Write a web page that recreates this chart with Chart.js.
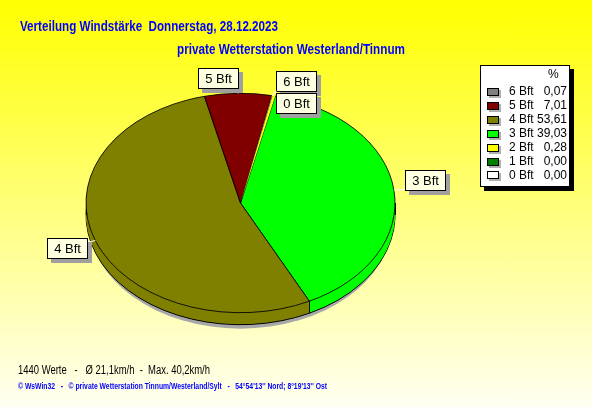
<!DOCTYPE html>
<html>
<head>
<meta charset="utf-8">
<script src="https://cdn.jsdelivr.net/npm/chart.js@4.4.0/dist/chart.umd.min.js"></script>
<style>
html, body { margin: 0; padding: 0; }
body { width: 592px; height: 407px; overflow: hidden; background: linear-gradient(to bottom, #ffff00 0%, #fffff2 100%); }
canvas { display: block; }
</style>
</head>
<body>
<canvas id="windChart" width="592" height="407"></canvas>
<script>
// Werte
const categories  = ['0 Bft', '1 Bft', '2 Bft', '3 Bft', '4 Bft', '5 Bft', '6 Bft'];
const percents    = [0.00, 0.00, 0.28, 39.03, 53.61, 7.01, 0.07];
const sliceColors = ['#ffffff', '#008000', '#ffff00', '#00ff00', '#808000', '#800000', '#808080'];
const showLabel   = [true, false, false, true, true, true, true];

const titleLine1 = 'Verteilung Windstärke  Donnerstag, 28.12.2023';
const titleLine2 = 'private Wetterstation Westerland/Tinnum';
const infoLine   = '1440 Werte   -   Ø 21,1km/h  -  Max. 40,2km/h';
const footerLine = '© WsWin32   -   © private Wetterstation Tinnum/Westerland/Sylt   -   54°54\'13\'\' Nord; 8°19\'13\'\' Ost';

const FONT = 'Arial, "Liberation Sans", sans-serif';
const PIE_K = 0.71;   // Ellipse (Höhe/Breite)
const DEPTH = 12;     // 3D-Tiefe

function fmt(v) { return v.toFixed(2).replace('.', ','); }

function squash(ctx, cx, cy) {
    ctx.translate(cx, cy);
    ctx.scale(1, PIE_K);
    ctx.translate(-cx, -cy);
}

const pie3d = {
    id: 'pie3d',
    beforeDatasetsDraw(chart) {
        const ctx = chart.ctx;
        const arcs = chart.getDatasetMeta(0).data;
        const cx = arcs[0].x, cy = arcs[0].y, r = arcs[0].outerRadius;

        // Schatten
        ctx.save();
        ctx.fillStyle = '#a8a8a8';
        ctx.beginPath();
        ctx.ellipse(cx, cy + DEPTH + 4, r - 2, r * PIE_K, 0, 0, Math.PI * 2);
        ctx.fill();
        ctx.restore();

        // Seitenwand
        for (let off = DEPTH; off >= 1; off--) {
            arcs.forEach((a, i) => {
                if (a.endAngle - a.startAngle <= 0) return;
                ctx.save();
                ctx.translate(0, off);
                squash(ctx, cx, cy);
                ctx.beginPath();
                ctx.moveTo(cx, cy);
                ctx.arc(cx, cy, r, a.startAngle, a.endAngle);
                ctx.closePath();
                ctx.restore();
                ctx.fillStyle = sliceColors[i];
                ctx.fill();
                if (off === DEPTH) {
                    ctx.save();
                    ctx.translate(0, off);
                    squash(ctx, cx, cy);
                    ctx.beginPath();
                    ctx.arc(cx, cy, r, a.startAngle, a.endAngle);
                    ctx.restore();
                    ctx.strokeStyle = '#000';
                    ctx.lineWidth = 1;
                    ctx.stroke();
                }
            });
        }
        // senkrechte Kanten vorne
        ctx.save();
        ctx.strokeStyle = '#000';
        ctx.lineWidth = 1;
        const edges = [0, Math.PI];
        arcs.forEach(a => { if (a.endAngle > a.startAngle) edges.push(a.startAngle); });
        edges.forEach(t => {
            if (Math.sin(t) < -1e-6) return;
            const x = Math.round(cx + r * Math.cos(t)) + 0.5;
            const y = cy + r * PIE_K * Math.sin(t);
            ctx.beginPath();
            ctx.moveTo(x, y);
            ctx.lineTo(x, y + DEPTH);
            ctx.stroke();
        });
        ctx.restore();

        ctx.save();
        squash(ctx, cx, cy);
    },
    afterDatasetsDraw(chart) {
        // schmale Segmente nochmals obenauf, damit sie sichtbar bleiben
        const ctx = chart.ctx;
        const arcs = chart.getDatasetMeta(0).data;
        arcs.forEach((a, i) => {
            if (a.endAngle > a.startAngle && a.options.borderWidth === 0) a.draw(ctx);
        });
        ctx.restore();
    },
    afterDraw(chart) {
        const ctx = chart.ctx;
        const arcs = chart.getDatasetMeta(0).data;
        const cx = arcs[0].x, cy = arcs[0].y, r = arcs[0].outerRadius;

        // Titel
        ctx.save();
        ctx.fillStyle = '#0000ff';
        ctx.textBaseline = 'alphabetic';
        ctx.font = 'bold 15px ' + FONT;
        ctx.fillText(titleLine1, 20, 31, 258);
        ctx.fillText(titleLine2, 177, 54, 228);
        ctx.fillStyle = '#000000';
        ctx.font = '12px ' + FONT;
        ctx.fillText(infoLine, 18, 374, 192);
        ctx.fillStyle = '#0000ff';
        ctx.font = 'bold 9px ' + FONT;
        ctx.fillText(footerLine, 18, 389, 309);
        ctx.restore();

        // Beschriftungen
        ctx.save();
        ctx.font = '13px ' + FONT;
        ctx.textBaseline = 'middle';
        const placed = [];
        for (let i = arcs.length - 1; i >= 0; i--) {
            if (!showLabel[i]) continue;
            const a = arcs[i];
            const mid = (a.startAngle + a.endAngle) / 2;
            const c = Math.cos(mid), s = Math.sin(mid);
            const ex = cx + r * c, ey = cy + r * PIE_K * s;
            const ax = ex + 9 * c + (c >= 0 ? 2 : 1), ay = ey + 5 * s;
            const w = Math.round(ctx.measureText(categories[i]).width) + 14, h = 21;
            let bx = Math.round(c >= 0 ? ax : ax - w);
            let by = Math.round(s < 0 ? ay - h + 1 : ay - 4);
            placed.forEach(p => {
                if (bx < p.x + p.w && bx + w > p.x && by < p.y + p.h && by + h > p.y) by = p.y + p.h + 1;
            });
            placed.push({ x: bx, y: by, w: w, h: h });
            ctx.strokeStyle = '#ffffff';
            ctx.lineWidth = 1;
            ctx.beginPath();
            ctx.moveTo(ex, ey);
            ctx.lineTo(ax, ay);
            ctx.stroke();
            ctx.fillStyle = '#a0a0a0';
            ctx.fillRect(bx + 4, by + 4, w, h);
            ctx.fillStyle = '#ffffe1';
            ctx.fillRect(bx, by, w, h);
            ctx.strokeStyle = '#000';
            ctx.strokeRect(bx + 0.5, by + 0.5, w - 1, h - 1);
            ctx.fillStyle = '#000';
            ctx.textAlign = 'center';
            ctx.fillText(categories[i], bx + w / 2, by + h / 2 + 1);
        }
        ctx.restore();

        // Legende
        ctx.save();
        ctx.fillStyle = '#000';
        ctx.fillRect(484, 69, 90, 122);
        ctx.fillStyle = '#fff';
        ctx.fillRect(480, 65, 90, 122);
        ctx.strokeStyle = '#000';
        ctx.strokeRect(480.5, 65.5, 89, 121);
        ctx.font = '12px ' + FONT;
        ctx.textBaseline = 'middle';
        ctx.fillStyle = '#000';
        ctx.textAlign = 'left';
        ctx.fillText('%', 548, 75);
        for (let j = 0; j < categories.length; j++) {
            const i = categories.length - 1 - j;
            const y = 92 + j * 13.9;
            ctx.fillStyle = '#b0b0b0';
            ctx.fillRect(489, Math.round(y) - 2, 12, 8);
            ctx.fillStyle = sliceColors[i];
            ctx.fillRect(487, Math.round(y) - 4, 12, 8);
            ctx.strokeStyle = '#000';
            ctx.strokeRect(487.5, Math.round(y) - 3.5, 11, 7);
            ctx.fillStyle = '#000';
            ctx.textAlign = 'left';
            ctx.fillText(categories[i], 509, y);
            ctx.textAlign = 'right';
            ctx.fillText(fmt(percents[i]), 567, y);
        }
        ctx.restore();
    }
};

new Chart(document.getElementById('windChart').getContext('2d'), {
    type: 'pie',
    data: {
        labels: categories,
        datasets: [{
            data: percents,
            backgroundColor: sliceColors,
            borderColor: '#000000',
            borderWidth: [1, 1, 0, 1, 1, 1, 0],
            clip: false
        }]
    },
    options: {
        responsive: false,
        animation: false,
        rotation: 12,
        layout: { padding: { left: 85, right: 196, top: 48, bottom: 49 } },
        plugins: { legend: { display: false }, tooltip: { enabled: false } },
        events: []
    },
    plugins: [pie3d]
});
</script>
</body>
</html>
